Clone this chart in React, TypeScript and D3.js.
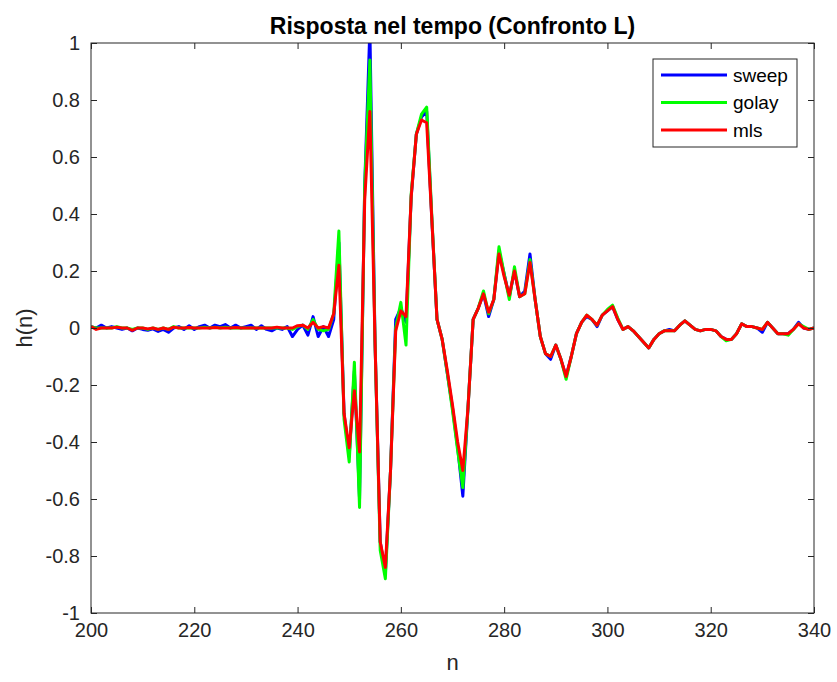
import React, { useRef, useEffect } from "react";
import * as d3 from "d3";

const nStart = 200;

const sweep = [
  0.005, 0.0, 0.01, 0.0, 0.005, 0.0, -0.005, 0.0, -0.01, 0.0,
  -0.005, -0.008, -0.003, -0.012, -0.005, -0.015, 0.0, 0.005, -0.005, 0.008,
  -0.005, 0.005, 0.01, 0.0, 0.01, 0.005, 0.012, 0.0, 0.01, 0.0,
  0.005, 0.01, -0.005, 0.008, -0.005, -0.01, 0.0, -0.005, 0.005, -0.03,
  -0.005, 0.01, -0.025, 0.04, -0.03, 0.005, -0.03, 0.03, 0.3, -0.3,
  -0.45, -0.15, -0.6, 0.5, 1.05, -0.05, -0.75, -0.86, -0.5, 0.03,
  0.07, 0.02, 0.46, 0.68, 0.74, 0.76, 0.38, 0.03, -0.04, -0.16,
  -0.28, -0.42, -0.59, -0.28, 0.03, 0.07, 0.12, 0.04, 0.1, 0.27,
  0.19, 0.11, 0.2, 0.11, 0.13, 0.26, 0.1, -0.03, -0.09, -0.11,
  -0.06, -0.11, -0.17, -0.1, -0.02, 0.02, 0.04, 0.03, 0.005, 0.045,
  0.06, 0.075, 0.03, -0.005, 0.005, -0.01, -0.03, -0.05, -0.07, -0.04,
  -0.02, -0.01, -0.005, -0.01, 0.01, 0.025, 0.01, -0.005, -0.01, -0.005,
  -0.005, -0.01, -0.03, -0.04, -0.04, -0.02, 0.015, 0.005, 0.005, 0.0,
  -0.015, 0.02, 0.0, -0.02, -0.02, -0.02, -0.005, 0.02, 0.0, -0.005,
  0.0,
];

const golay = [
  0.005, 0.0, 0.0, 0.0, 0.0, 0.005, 0.0, 0.0, -0.005, 0.0,
  0.0, -0.005, 0.0, -0.005, 0.0, -0.005, 0.005, 0.0, 0.0, 0.0,
  0.0, 0.0, 0.003, 0.0, 0.003, 0.0, 0.003, 0.0, 0.0, 0.0,
  0.0, 0.0, 0.0, 0.0, 0.0, 0.0, 0.0, 0.0, 0.0, -0.005,
  0.005, 0.01, -0.005, 0.03, -0.005, -0.01, -0.005, 0.05, 0.34, -0.32,
  -0.47, -0.12, -0.63, 0.5, 0.94, -0.05, -0.78, -0.88, -0.5, 0.0,
  0.09, -0.06, 0.47, 0.68, 0.75, 0.775, 0.39, 0.03, -0.04, -0.16,
  -0.29, -0.43, -0.56, -0.28, 0.03, 0.07, 0.13, 0.05, 0.1, 0.285,
  0.19, 0.1, 0.215, 0.11, 0.12, 0.24, 0.1, -0.03, -0.09, -0.1,
  -0.06, -0.11, -0.18, -0.1, -0.02, 0.02, 0.045, 0.03, 0.01, 0.045,
  0.065, 0.08, 0.035, -0.005, 0.005, -0.01, -0.03, -0.05, -0.07, -0.04,
  -0.02, -0.01, -0.01, -0.01, 0.01, 0.025, 0.01, -0.005, -0.01, -0.005,
  -0.005, -0.01, -0.03, -0.045, -0.04, -0.02, 0.015, 0.005, 0.005, 0.0,
  -0.005, 0.02, 0.0, -0.02, -0.02, -0.025, -0.005, 0.015, 0.005, -0.005,
  0.0,
];

const mls = [
  0.005, -0.005, 0.0, 0.0, 0.0, 0.003, 0.0, 0.0, -0.008, 0.0,
  0.0, -0.003, 0.0, -0.005, 0.0, -0.005, 0.003, 0.0, 0.0, 0.002,
  0.0, 0.0, 0.0, 0.0, 0.002, 0.0, 0.0, 0.0, 0.002, 0.0,
  0.0, 0.0, 0.0, 0.0, 0.0, 0.0, 0.003, 0.0, 0.0, 0.0,
  0.008, 0.01, 0.0, 0.02, 0.0, 0.005, 0.0, 0.05, 0.22, -0.3,
  -0.42, -0.22, -0.435, 0.45, 0.76, -0.05, -0.75, -0.84, -0.5, -0.01,
  0.06, 0.04, 0.46, 0.68, 0.73, 0.72, 0.38, 0.03, -0.04, -0.15,
  -0.27, -0.4, -0.5, -0.28, 0.03, 0.07, 0.12, 0.055, 0.1, 0.26,
  0.18, 0.115, 0.2, 0.11, 0.12, 0.23, 0.1, -0.03, -0.09, -0.1,
  -0.06, -0.11, -0.17, -0.1, -0.02, 0.02, 0.045, 0.03, 0.01, 0.045,
  0.06, 0.075, 0.03, -0.005, 0.005, -0.01, -0.03, -0.05, -0.07, -0.04,
  -0.02, -0.01, -0.01, -0.01, 0.01, 0.025, 0.01, -0.005, -0.01, -0.005,
  -0.005, -0.01, -0.03, -0.04, -0.04, -0.02, 0.015, 0.005, 0.005, 0.0,
  -0.005, 0.02, 0.0, -0.02, -0.02, -0.02, -0.005, 0.015, 0.0, -0.005,
  0.0,
];

const seriesNames = ["sweep", "golay", "mls"];
const seriesColors = ["#0000ff", "#00ff00", "#ff0000"];
const xTicks = [200, 220, 240, 260, 280, 300, 320, 340];
const yTicks = [-1, -0.8, -0.6, -0.4, -0.2, 0, 0.2, 0.4, 0.6, 0.8, 1];

const W = 837;
const H = 682;
const left = 91;
const right = 814;
const top = 43;
const bottom = 613;
const axisColor = "#262626";
const font = "'Liberation Sans', Arial, Helvetica, sans-serif";

export default function App() {
  const svg = useRef(null);

  useEffect(() => {
    const root = d3.select(svg.current);
    root.selectAll("*").remove();

    const x = d3.scaleLinear().domain([200, 340]).range([left, right]);
    const y = d3.scaleLinear().domain([-1, 1]).range([bottom, top]);

    root
      .append("defs")
      .append("clipPath")
      .attr("id", "plotclip")
      .append("rect")
      .attr("x", left)
      .attr("y", top)
      .attr("width", right - left)
      .attr("height", bottom - top);

    root
      .append("rect")
      .attr("x", left)
      .attr("y", top)
      .attr("width", right - left)
      .attr("height", bottom - top)
      .attr("fill", "white");

    const line = d3
      .line<number>()
      .x((d, i) => x(nStart + i))
      .y((d) => y(d));

    const g = root.append("g").attr("clip-path", "url(#plotclip)");
    [sweep, golay, mls].forEach((s, k) => {
      g.append("path")
        .attr("d", line(s))
        .attr("fill", "none")
        .attr("stroke", seriesColors[k])
        .attr("stroke-width", 3)
        .attr("stroke-linejoin", "round");
    });

    // axes, ticks inward, box on; plain hyphen for minus like matlab
    const fmtY = (d) => String(d);
    const styleAxis = (sel) => {
      sel.select(".domain").remove();
      sel.selectAll("line").attr("stroke", axisColor);
      sel
        .selectAll("text")
        .attr("fill", axisColor)
        .style("font-family", font)
        .style("font-size", "20px");
    };

    root
      .append("g")
      .attr("transform", `translate(0,${bottom})`)
      .call(d3.axisBottom(x).tickValues(xTicks).tickSizeInner(-6).tickSizeOuter(0).tickPadding(10))
      .call(styleAxis);
    root
      .append("g")
      .attr("transform", `translate(0,${top})`)
      .call(d3.axisTop(x).tickValues(xTicks).tickSizeInner(-6).tickSizeOuter(0).tickFormat(() => ""))
      .call(styleAxis);
    root
      .append("g")
      .attr("transform", `translate(${left},0)`)
      .call(d3.axisLeft(y).tickValues(yTicks).tickSizeInner(-6).tickSizeOuter(0).tickPadding(11).tickFormat(fmtY))
      .call(styleAxis);
    root
      .append("g")
      .attr("transform", `translate(${right},0)`)
      .call(d3.axisRight(y).tickValues(yTicks).tickSizeInner(-6).tickSizeOuter(0).tickFormat(() => ""))
      .call(styleAxis);

    root
      .append("rect")
      .attr("x", left)
      .attr("y", top)
      .attr("width", right - left)
      .attr("height", bottom - top)
      .attr("fill", "none")
      .attr("stroke", axisColor)
      .attr("stroke-width", 1);

    // title and labels
    root
      .append("text")
      .attr("x", (left + right) / 2)
      .attr("y", 34)
      .attr("text-anchor", "middle")
      .attr("fill", "#000")
      .style("font-family", font)
      .style("font-size", "23px")
      .style("font-weight", "bold")
      .text("Risposta nel tempo (Confronto L)");

    root
      .append("text")
      .attr("x", (left + right) / 2)
      .attr("y", 670)
      .attr("text-anchor", "middle")
      .attr("fill", axisColor)
      .style("font-family", font)
      .style("font-size", "22px")
      .text("n");

    root
      .append("text")
      .attr("transform", `translate(32,${(top + bottom) / 2}) rotate(-90)`)
      .attr("text-anchor", "middle")
      .attr("fill", axisColor)
      .style("font-family", font)
      .style("font-size", "22px")
      .text("h(n)");

    // legend
    const lg = root.append("g");
    lg.append("rect")
      .attr("x", 653)
      .attr("y", 59)
      .attr("width", 144)
      .attr("height", 88)
      .attr("fill", "white")
      .attr("stroke", axisColor)
      .attr("stroke-width", 1);
    seriesNames.forEach((name, k) => {
      const yy = 75 + k * 27.5;
      lg.append("line")
        .attr("x1", 661)
        .attr("x2", 727)
        .attr("y1", yy)
        .attr("y2", yy)
        .attr("stroke", seriesColors[k])
        .attr("stroke-width", 3);
      lg.append("text")
        .attr("x", 733)
        .attr("y", yy)
        .attr("dy", "0.35em")
        .attr("fill", "#000")
        .style("font-family", font)
        .style("font-size", "19px")
        .text(name);
    });
  }, []);

  return (
    <svg
      ref={svg}
      width={W}
      height={H}
      style={{ position: "absolute", left: 0, top: 0, background: "white" }}
    ></svg>
  );
}
